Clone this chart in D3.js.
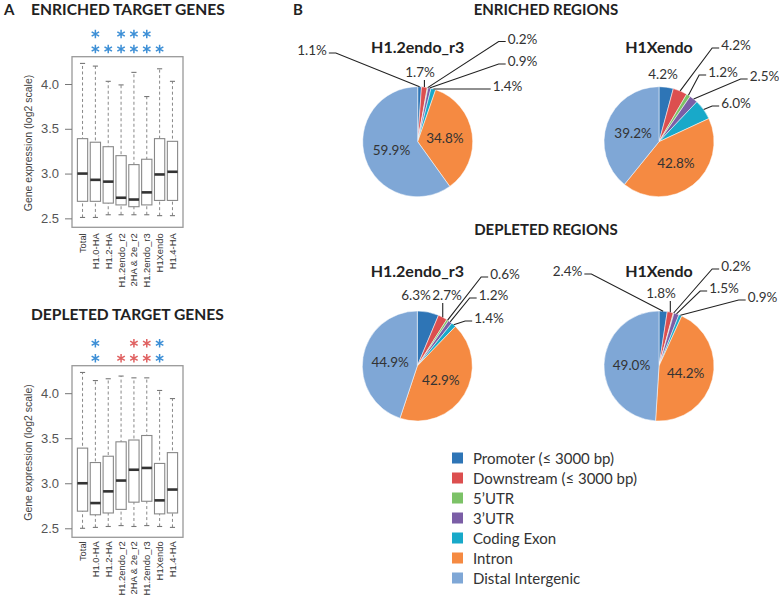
<!DOCTYPE html>
<html>
<head>
<meta charset="utf-8">
<script src="https://cdn.jsdelivr.net/npm/d3@7"></script>
<style>
  body { margin: 0; background: #fff; }
  svg { display: block; }
</style>
</head>
<body>
<svg id="fig" width="779" height="597"></svg>
<script>
// ---- panel A data: box stats [lower whisker, Q1, median, Q3, upper whisker] ----
const samples = ['Total', 'H1.0-HA', 'H1.2-HA', 'H1.2endo_r2', '2HA & 2e_r2', 'H1.2endo_r3', 'H1Xendo', 'H1.4-HA'];
const enrichedStats = [
  [2.51, 2.69, 3.00, 3.39, 4.23],
  [2.51, 2.69, 2.93, 3.35, 4.20],
  [2.54, 2.67, 2.91, 3.30, 4.03],
  [2.54, 2.65, 2.73, 3.20, 3.99],
  [2.54, 2.63, 2.71, 3.10, 4.13],
  [2.54, 2.65, 2.79, 3.16, 3.86],
  [2.53, 2.70, 2.99, 3.39, 4.17],
  [2.53, 2.70, 3.02, 3.36, 4.03]
];
const depletedStats = [
  [2.50, 2.69, 3.00, 3.39, 4.23],
  [2.51, 2.65, 2.78, 3.23, 4.14],
  [2.52, 2.67, 2.91, 3.30, 4.16],
  [2.53, 2.71, 3.03, 3.46, 4.19],
  [2.52, 2.79, 3.15, 3.48, 4.17],
  [2.53, 2.80, 3.17, 3.53, 4.17],
  [2.52, 2.66, 2.81, 3.22, 4.03],
  [2.51, 2.67, 2.93, 3.34, 3.94]
];
const yTicks = [2.5, 3.0, 3.5, 4.0];
// significance stars, b = blue, r = red
const enrichedStarsTop    = ['', 'b', '', 'b', 'b', 'b', '', ''];
const enrichedStarsBottom = ['', 'b', 'b', 'b', 'b', 'b', 'b', ''];
const depletedStarsTop    = ['', 'b', '', '', 'r', 'r', 'b', ''];
const depletedStarsBottom = ['', 'b', '', 'r', 'r', 'r', 'b', ''];

// ---- panel B data: % of regions per annotation ----
const regionTypes = ['Promoter (\u2264 3000 bp)', 'Downstream (\u2264 3000 bp)', '5\u2019UTR', '3\u2019UTR', 'Coding Exon', 'Intron', 'Distal Intergenic'];
const enrichedR3 = [1.1, 1.7, 0.2, 0.9, 1.4, 34.8, 59.9];
const enrichedX  = [4.2, 4.2, 1.2, 2.5, 6.0, 42.8, 39.2];
const depletedR3 = [6.3, 2.7, 0.6, 1.2, 1.4, 42.9, 44.9];
const depletedX  = [2.4, 1.8, 0.2, 1.5, 0.9, 44.2, 49.0];

const regionColors = ['#2e75b6', '#dc4f4f', '#7cc267', '#7b5ea6', '#18a9c9', '#f58a42', '#7fa7d6'];
const starColors = { b: '#3d8fd6', r: '#e06262' };

const svg = d3.select('#fig');
const sans = 'Lato, "Open Sans", sans-serif';
const rFont = '"Liberation Sans", Arial, sans-serif';

// panel letters
svg.append('text').attr('x', 4).attr('y', 15).text('A')
  .attr('font-family', sans).attr('font-weight', 700).attr('font-size', 15).attr('fill', '#222');
svg.append('text').attr('x', 293).attr('y', 15).text('B')
  .attr('font-family', sans).attr('font-weight', 700).attr('font-size', 15).attr('fill', '#222');

// ---------- box plots ----------
const boxPanels = [
  { title: 'ENRICHED TARGET GENES', titleY: 15, stats: enrichedStats, top: 56.7, bottom: 227.3, labelGap: 6,
    stars: [enrichedStarsTop, enrichedStarsBottom], starY: [34, 49] },
  { title: 'DEPLETED TARGET GENES', titleY: 320, stats: depletedStats, top: 365.7, bottom: 537.3, labelGap: 4,
    stars: [depletedStarsTop, depletedStarsBottom], starY: [343.3, 358.3] }
];

const x = d3.scaleLinear().domain([0.18, 8.82]).range([72, 183]); // sample i sits at i + 1
const half = x(1.4) - x(1);   // half box width
const cap = half / 2;         // half staple width

boxPanels.forEach(p => {
  const g = svg.append('g');
  const y = d3.scaleLinear().domain([2.40, 4.305]).range([p.bottom, p.top]);

  g.append('text').attr('x', 31).attr('y', p.titleY).text(p.title)
    .attr('font-family', sans).attr('font-weight', 700).attr('font-size', 15.6).attr('fill', '#222');

  // frame
  g.append('rect').attr('x', x.range()[0]).attr('y', p.top)
    .attr('width', x.range()[1] - x.range()[0]).attr('height', p.bottom - p.top)
    .attr('fill', 'none').attr('stroke', '#999').attr('stroke-width', 1.3);

  // y axis
  const yAxis = g.append('g').attr('transform', `translate(${x.range()[0]},0)`)
    .call(d3.axisLeft(y).tickValues(yTicks).tickFormat(d3.format('.1f')).tickSize(7).tickPadding(6));
  yAxis.select('.domain').remove();
  yAxis.selectAll('line').attr('stroke', '#777');
  yAxis.selectAll('text').attr('font-family', rFont).attr('font-size', 13).attr('fill', '#555');

  g.append('text')
    .attr('transform', `translate(28,${(p.top + p.bottom) / 2 + 1}) rotate(-90)`)
    .attr('text-anchor', 'middle').attr('dominant-baseline', 'central')
    .attr('font-family', rFont).attr('font-size', 10.5).attr('fill', '#444')
    .text('Gene expression (log2 scale)');

  p.stats.forEach((d, i) => {
    const cx = x(i + 1);
    const b = g.append('g').attr('class', 'box');
    // dashed whisker
    b.append('line').attr('x1', cx).attr('x2', cx).attr('y1', y(d[0])).attr('y2', y(d[4]))
      .attr('stroke', '#888').attr('stroke-dasharray', '3,2.5');
    // staples
    [d[0], d[4]].forEach(v => {
      b.append('line').attr('x1', cx - cap).attr('x2', cx + cap).attr('y1', y(v)).attr('y2', y(v))
        .attr('stroke', '#777').attr('stroke-width', 1.1);
    });
    // box
    b.append('rect').attr('x', cx - half).attr('width', 2 * half)
      .attr('y', y(d[3])).attr('height', y(d[1]) - y(d[3]))
      .attr('fill', '#fff').attr('stroke', '#888').attr('stroke-width', 1.1);
    // median
    b.append('line').attr('x1', cx - half).attr('x2', cx + half).attr('y1', y(d[2])).attr('y2', y(d[2]))
      .attr('stroke', '#333').attr('stroke-width', 2.6);
  });

  // x labels
  g.selectAll('.xl').data(samples).enter().append('text')
    .attr('transform', (d, i) => `translate(${x(i + 1)},${p.bottom + p.labelGap}) rotate(-90)`)
    .attr('text-anchor', 'end').attr('dominant-baseline', 'central')
    .attr('font-family', rFont).attr('font-size', 9.4).attr('fill', '#333')
    .text(d => d);

  // stars
  const star = d3.symbol().type(d3.symbolAsterisk).size(52);
  p.stars.forEach((row, r) => {
    row.forEach((c, i) => {
      if (!c) return;
      g.append('path').attr('d', star)
        .attr('transform', `translate(${x(i + 1)},${p.starY[r]})`)
        .attr('fill', 'none').attr('stroke', starColors[c]).attr('stroke-width', 1.5);
    });
  });
});

// ---------- pie charts ----------
svg.append('text').attr('x', 546).attr('y', 15).attr('text-anchor', 'middle').text('ENRICHED REGIONS')
  .attr('font-family', sans).attr('font-weight', 700).attr('font-size', 15).attr('fill', '#222');
svg.append('text').attr('x', 546).attr('y', 235).attr('text-anchor', 'middle').text('DEPLETED REGIONS')
  .attr('font-family', sans).attr('font-weight', 700).attr('font-size', 15).attr('fill', '#222');

const R = 55;
// label spots: text centre relative to pie centre, leader side (L/R/D/none); 'in' = inside slice
const pies = [
  { name: 'H1.2endo_r3', values: enrichedR3, cx: 417.7, cy: 141.7, titleY: 53,
    spots: [[-105.7, -91.7, 'R'], [2.3, -69.7, 'D'], [104.8, -103.2, 'L'], [104.8, -80.7, 'L'], [89.8, -55.7, 'L'], 'in', 'in'] },
  { name: 'H1Xendo', values: enrichedX, cx: 659, cy: 141.7, titleY: 53,
    spots: [[4, -67.7, ''], [77, -96.7, 'L'], [64, -69.7, 'L'], [105.5, -65.7, 'L'], [77, -38.7, 'L'], 'in', 'in'] },
  { name: 'H1.2endo_r3', values: depletedR3, cx: 417.3, cy: 366, titleY: 277,
    spots: [[-1.3, -71, ''], [29.7, -71, 'D'], [87.7, -92, 'L'], [76.2, -71, 'L'], [71.7, -48, 'L'], 'in', 'in'] },
  { name: 'H1Xendo', values: depletedX, cx: 659, cy: 366, titleY: 277,
    spots: [[-91.5, -95, 'R'], [2, -73, 'D'], [77, -100, 'L'], [65, -78, 'L'], [103.5, -69, 'L'], 'in', 'in'] }
];

const pieGen = d3.pie().sort(null).value(d => d);
const arcGen = d3.arc().innerRadius(0).outerRadius(R);

pies.forEach(p => {
  const g = svg.append('g').attr('transform', `translate(${p.cx},${p.cy})`);
  g.append('text').attr('x', 0).attr('y', p.titleY - p.cy).attr('text-anchor', 'middle').text(p.name)
    .attr('font-family', sans).attr('font-weight', 700).attr('font-size', 16).attr('fill', '#222');

  const arcs = pieGen(p.values);
  g.selectAll('path.slice').data(arcs).enter().append('path').attr('class', 'slice')
    .attr('d', arcGen).attr('fill', (d, i) => regionColors[i])
    .attr('stroke', '#fff').attr('stroke-width', 0.5);

  arcs.forEach((a, i) => {
    const label = a.value.toFixed(1) + '%';
    const spot = p.spots[i];
    if (spot === 'in') {
      const c = arcGen.centroid(a);
      g.append('text').attr('x', c[0]).attr('y', c[1]).text(label)
        .attr('text-anchor', 'middle').attr('dominant-baseline', 'central')
        .attr('font-family', sans).attr('font-size', 13.5).attr('fill', '#333');
      return;
    }
    const [tx, ty, side] = spot;
    const t = g.append('text').attr('x', tx).attr('y', ty).text(label)
      .attr('text-anchor', 'middle').attr('dominant-baseline', 'central')
      .attr('font-family', sans).attr('font-size', 13.5).attr('fill', '#333');
    const w = t.node().getComputedTextLength();
    const mid = (a.startAngle + a.endAngle) / 2;
    const ax = R * Math.sin(mid), ay = -R * Math.cos(mid);
    let pts = null;
    if (side === 'L') pts = [[tx - w / 2 - 2, ty + 3], [tx - w / 2 - 9, ty + 3], [ax, ay]];
    if (side === 'R') pts = [[tx + w / 2 + 2, ty + 3], [tx + w / 2 + 9, ty + 3], [ax, ay]];
    if (side === 'D') pts = [[ax, ty + 8], [ax, ay]];
    if (pts) {
      g.append('path').attr('d', d3.line()(pts))
        .attr('fill', 'none').attr('stroke', '#222').attr('stroke-width', 1.1);
    }
  });
});

// legend
const legend = svg.append('g').attr('transform', 'translate(452,458)');
const rows = legend.selectAll('g').data(regionTypes).enter().append('g')
  .attr('transform', (d, i) => `translate(0,${i * 20})`);
rows.append('rect').attr('x', 0).attr('y', -5.5).attr('width', 11).attr('height', 11)
  .attr('fill', (d, i) => regionColors[i]);
rows.append('text').attr('x', 21).attr('y', 0).attr('dominant-baseline', 'central')
  .attr('font-family', sans).attr('font-size', 15).attr('fill', '#333').text(d => d);
</script>
</body>
</html>
